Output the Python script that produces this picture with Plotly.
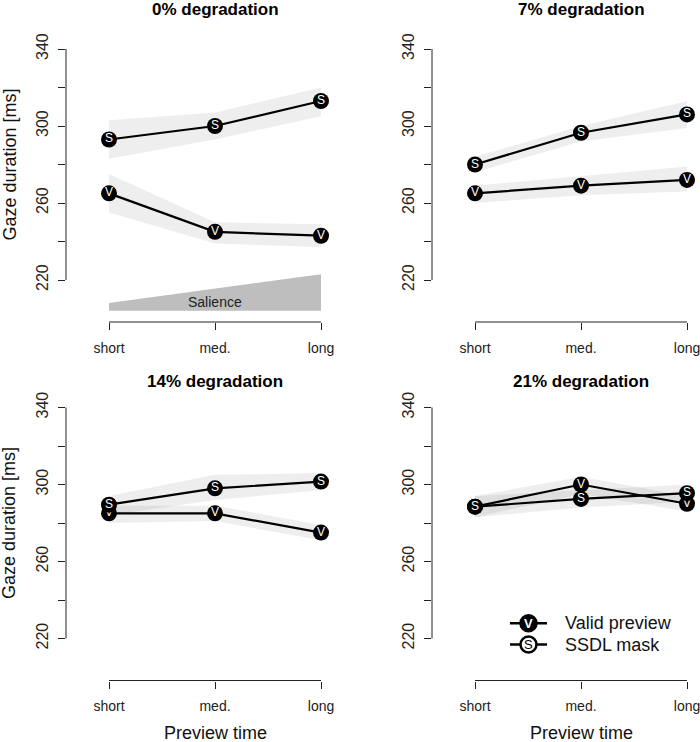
import plotly.graph_objects as go

W, H = 700, 742
FONT = "Liberation Sans, Arial, Helvetica, sans-serif"

# ---------------- data ----------------
x_pos = [1, 2, 3]
x_labels = ["short", "med.", "long"]
titles = ["0% degradation", "7% degradation", "14% degradation", "21% degradation"]

valid_mean = [[265, 245, 243], [265, 269, 272], [285, 285, 275], [288.5, 300, 290]]
valid_lo = [[255, 239, 237], [260, 264, 266], [280, 281, 271], [283, 295, 286]]
valid_hi = [[275, 250, 249], [269, 274, 279], [289, 289, 279], [294, 304, 294]]

ssdl_mean = [[293, 300, 313], [280, 296.5, 306], [289.5, 298, 301.5], [288.5, 292.5, 295.5]]
ssdl_lo = [[283, 293, 305], [276, 292, 299], [284, 292, 297], [283, 288, 291]]
ssdl_hi = [[303, 307, 320], [284, 300, 313], [294, 305, 306], [294, 297, 300]]

salience_x = [1, 3]
salience_lo = [204, 204]
salience_hi = [208, 223]

y_ticks = [220, 240, 260, 280, 300, 320, 340]
y_ticktext = ["220", "", "260", "", "300", "", "340"]

# ---------------- layout helpers ----------------
def px_x(p):
    return p / W

def px_y(p):
    return 1 - p / H

panel_x = [(66, 334), (432, 700), (66, 334), (432, 700)]
panel_y = [(40, 322), (40, 322), (398.5, 680.5), (398.5, 680.5)]
x_range = [0.5943, 3.1226]
y_range = [198.18, 344.675]

BAND = "rgba(0,0,0,0.065)"
AX = "#222222"

fig = go.Figure()
shapes = []
annotations = []

for i in range(4):
    xa = "x" if i == 0 else f"x{i+1}"
    ya = "y" if i == 0 else f"y{i+1}"
    # confidence bands
    for lo, hi in ((valid_lo[i], valid_hi[i]), (ssdl_lo[i], ssdl_hi[i])):
        fig.add_trace(go.Scatter(
            x=x_pos + x_pos[::-1], y=hi + lo[::-1], fill="toself",
            fillcolor=BAND, line=dict(width=0), mode="lines",
            hoverinfo="skip", showlegend=False, xaxis=xa, yaxis=ya))
    if i == 0:
        fig.add_trace(go.Scatter(
            x=salience_x + salience_x[::-1], y=salience_hi + salience_lo[::-1],
            fill="toself", fillcolor="#BEBEBE", line=dict(width=0), mode="lines",
            hoverinfo="skip", showlegend=False, xaxis=xa, yaxis=ya))
        annotations.append(dict(x=2, y=208.6, xref=xa, yref=ya, text="Salience",
                                showarrow=False, font=dict(family=FONT, size=14, color="#222")))
    # series: valid first, SSDL on top
    for mean, letter in ((valid_mean[i], "V"), (ssdl_mean[i], "S")):
        fig.add_trace(go.Scatter(
            x=x_pos, y=mean, mode="lines+markers+text",
            text=[letter] * len(mean), textposition="middle center",
            textfont=dict(family=FONT, size=12, color="white"),
            line=dict(color="black", width=2.2),
            marker=dict(color="black", size=16, line=dict(width=0)),
            showlegend=False, xaxis=xa, yaxis=ya, cliponaxis=False))

    x0, x1 = panel_x[i]
    y0, y1 = panel_y[i]
    fig.layout[("xaxis" if i == 0 else f"xaxis{i+1}")] = dict(
        domain=[px_x(x0), px_x(x1)], range=x_range, anchor=ya,
        showgrid=False, zeroline=False, showline=False, automargin=False,
        tickmode="array", tickvals=x_pos, ticktext=x_labels,
        ticks="outside", ticklen=7, tickwidth=1, tickcolor=AX,
        tickfont=dict(family=FONT, size=14, color="#222"),
        ticklabelstandoff=6, ticklabeloverflow="allow", fixedrange=True)
    fig.layout[("yaxis" if i == 0 else f"yaxis{i+1}")] = dict(
        domain=[px_y(y1), px_y(y0)], range=y_range, anchor=xa,
        showgrid=False, zeroline=False, showline=False, automargin=False,
        tickmode="array", tickvals=y_ticks, ticktext=y_ticktext,
        ticks="outside", ticklen=7, tickwidth=1, tickcolor=AX,
        tickangle=-90,
        tickfont=dict(family=FONT, size=16, color="#222"),
        ticklabelstandoff=4, ticklabeloverflow="allow", fixedrange=True)
    # axis lines spanning tick range only (R style)
    shapes.append(dict(type="line", xref=xa, yref=f"{ya} domain",
                       x0=x_pos[0], x1=x_pos[-1], y0=0, y1=0,
                       line=dict(color=AX, width=1)))
    shapes.append(dict(type="line", xref=f"{xa} domain", yref=ya,
                       x0=0, x1=0, y0=y_ticks[0], y1=y_ticks[-1],
                       line=dict(color=AX, width=1)))
    # panel title
    title_y = 9.5 if i < 2 else 381
    annotations.append(dict(x=2, xref=xa, y=px_y(title_y), yref="paper",
                            text=f"<b>{titles[i]}</b>", showarrow=False,
                            yanchor="middle",
                            font=dict(family=FONT, size=17, color="black")))

# y axis labels
for cy in (164.5, 523):
    annotations.append(dict(x=px_x(9), y=px_y(cy), xref="paper", yref="paper",
                            text="Gaze duration [ms]", textangle=-90, showarrow=False,
                            xanchor="center", yanchor="middle",
                            font=dict(family=FONT, size=18, color="#111")))
# x axis labels
for xa in ("x3", "x4"):
    annotations.append(dict(x=2, xref=xa, y=px_y(732.5), yref="paper",
                            text="Preview time", showarrow=False, yanchor="middle",
                            font=dict(family=FONT, size=18, color="#111")))

# legend (bottom-right panel)
legend_items = [("V", "Valid preview", 623.3, "black", "white"),
                ("S", "SSDL mask", 644.5, "white", "black")]
for letter, label, ly, fill, tcol in legend_items:
    shapes.append(dict(type="line", xref="paper", yref="paper",
                       x0=px_x(510), x1=px_x(547), y0=px_y(ly), y1=px_y(ly),
                       line=dict(color="black", width=2.5)))
    shapes.append(dict(type="circle", xref="paper", yref="paper",
                       xsizemode="pixel", ysizemode="pixel",
                       xanchor=px_x(528.5), yanchor=px_y(ly),
                       x0=-8, x1=8, y0=-8, y1=8,
                       fillcolor=fill, line=dict(color="black", width=2.5)))
    annotations.append(dict(x=px_x(528.5), y=px_y(ly), xref="paper", yref="paper",
                            text=f"<b>{letter}</b>" if tcol == "white" else letter,
                            showarrow=False, xanchor="center", yanchor="middle",
                            font=dict(family=FONT, size=13, color=tcol)))
    annotations.append(dict(x=px_x(563), y=px_y(ly), xref="paper", yref="paper",
                            text=label, showarrow=False, xanchor="left", yanchor="middle",
                            font=dict(family=FONT, size=18, color="#111")))

fig.update_layout(
    width=W, height=H, margin=dict(l=0, r=0, t=0, b=0, autoexpand=False),
    paper_bgcolor="white", plot_bgcolor="white",
    shapes=shapes, annotations=annotations, showlegend=False,
    font=dict(family=FONT))

fig.write_html(
    "out.html",
    config={"displayModeBar": False, "staticPlot": True},
    post_script="document.body.style.margin='0px';document.body.style.padding='0px';"
                "document.body.style.overflow='hidden';")
